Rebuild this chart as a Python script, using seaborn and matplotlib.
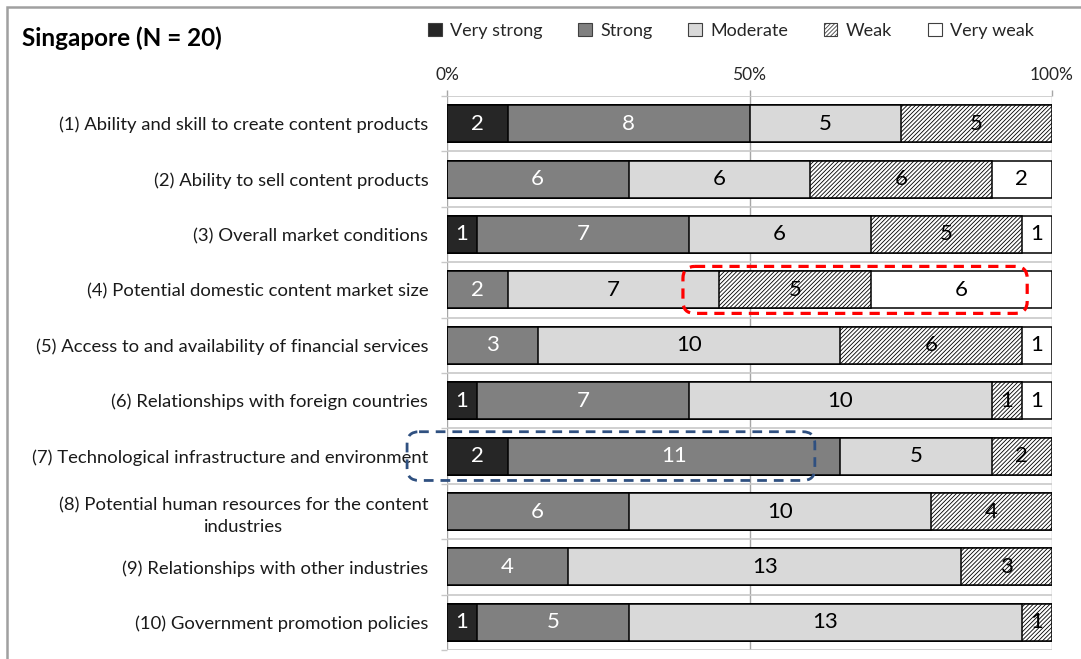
import numpy as np
import pandas as pd
import matplotlib
matplotlib.use("Agg")
import matplotlib.pyplot as plt
from matplotlib.patches import Patch, Rectangle, FancyBboxPatch
import seaborn as sns

# Survey responses (counts out of N = 20) for each factor
factors = [
    "(1) Ability and skill to create content products",
    "(2) Ability to sell content products",
    "(3) Overall market conditions",
    "(4) Potential domestic content market size",
    "(5) Access to and availability of financial services",
    "(6) Relationships with foreign countries",
    "(7) Technological infrastructure and environment",
    "(8) Potential human resources for the content\nindustries",
    "(9) Relationships with other industries",
    "(10) Government promotion policies",
]
levels = ["Very strong", "Strong", "Moderate", "Weak", "Very weak"]
very_strong = [2, 0, 1, 0, 0, 1, 2, 0, 0, 1]
strong = [8, 6, 7, 2, 3, 7, 11, 6, 4, 5]
moderate = [5, 6, 6, 7, 10, 10, 5, 10, 13, 13]
weak = [5, 6, 5, 5, 6, 1, 2, 4, 3, 1]
very_weak = [0, 2, 1, 6, 1, 1, 0, 0, 0, 0]
n_total = 20
xtick_vals = [0, 0.5, 1.0]
xtick_labels = ["0%", "50%", "100%"]

fills = ["#262626", "#808080", "#d9d9d9", "white", "white"]
hatches = [None, None, None, "////////", None]
text_colors = ["white", "white", "black", "black", "black"]

sns.set_theme(style="white")
plt.rcParams["font.family"] = ["Lato", "DejaVu Sans"]
plt.rcParams["hatch.linewidth"] = 0.6
plt.rcParams["hatch.color"] = "black"

counts = np.array([very_strong, strong, moderate, weak, very_weak], dtype=float)
shares = counts / n_total
cum = np.cumsum(shares, axis=0)

df = pd.DataFrame({"factor": factors})
for k, lvl in enumerate(levels):
    df[lvl] = cum[k]

fig = plt.figure(figsize=(10.81, 6.59), dpi=100)
ax = fig.add_axes([447 / 1081, 1 - 650 / 659, 605 / 1081, 554 / 659])

# Stacked bars: draw cumulative totals from the longest layer down
for k in range(len(levels) - 1, -1, -1):
    kw = {}
    if hatches[k]:
        kw["hatch"] = hatches[k]
    sns.barplot(data=df, x=levels[k], y="factor", orient="h", color=fills[k],
                saturation=1, edgecolor="black", linewidth=1.1, width=0.67,
                ax=ax, zorder=2, **kw)

# Segment value labels
for i in range(len(factors)):
    left = 0.0
    for k in range(len(levels)):
        v = counts[k, i]
        if v > 0:
            ax.text(left + shares[k, i] / 2, i, f"{int(v)}", ha="center",
                    va="center", fontsize=16, color=text_colors[k], zorder=5)
        left += shares[k, i]

ax.set_xlim(0, 1)
ax.set_ylim(9.5, -0.5)
ax.set_xlabel("")
ax.set_ylabel("")
for s in ax.spines.values():
    s.set_visible(False)

ax.xaxis.tick_top()
ax.set_xticks(xtick_vals)
ax.set_xticklabels(xtick_labels, fontsize=12.5)
ax.tick_params(axis="x", which="major", length=4.3, width=1, color="#a6a6a6",
               direction="out", pad=5, labelcolor="#262626")
ax.set_yticks(np.arange(len(factors)))
ax.set_yticklabels(factors, fontsize=13.3, multialignment="center", linespacing=1.45)
ax.tick_params(axis="y", which="major", length=0, pad=13.5, labelcolor="#1a1a1a")
ax.set_yticks(np.arange(-0.5, len(factors), 1), minor=True)
ax.tick_params(axis="y", which="minor", length=4.3, width=1, color="#c8c8c8",
               direction="out", left=True)
ax.grid(axis="x", which="major", color="#a6a6a6", linewidth=1, zorder=0)
ax.grid(axis="y", which="minor", color="#c8c8c8", linewidth=1.2, zorder=0)
ax.set_axisbelow(True)

# Highlight boxes
px_x = 1 / 605
aspect = (1 / 55.4) / px_x
red_box = FancyBboxPatch((0.390, 3 - 0.424), 0.569, 0.848,
                         boxstyle=f"round,pad=0,rounding_size={12 * px_x}",
                         mutation_aspect=aspect, fill=False, edgecolor="#ff0000",
                         linewidth=2.3, linestyle=(0, (3.2, 2.2)), zorder=6,
                         clip_on=False)
blue_box = FancyBboxPatch((-0.066, 6 - 0.44), 0.674, 0.88,
                          boxstyle=f"round,pad=0,rounding_size={12 * px_x}",
                          mutation_aspect=aspect, fill=False, edgecolor="#2f5080",
                          linewidth=2.0, linestyle=(0, (3.5, 2.5)), zorder=6,
                          clip_on=False)
ax.add_patch(red_box)
ax.add_patch(blue_box)

# Title and legend
fig.text(22 / 1081, 1 - 38 / 659, "Singapore (N = 20)", fontsize=17.5,
         fontweight="bold", va="center", ha="left", color="black")
handles = [Patch(facecolor=fills[k], edgecolor="#404040", linewidth=0.8,
                 hatch=hatches[k]) for k in range(len(levels))]
fig.legend(handles, levels, loc="center left", bbox_to_anchor=(428 / 1081, 1 - 31 / 659),
           ncol=5, frameon=False, fontsize=13, handlelength=0.75, handleheight=0.75,
           handletextpad=0.45, columnspacing=2.0, borderpad=0, borderaxespad=0)

# Chart-area frame
fig.add_artist(Rectangle((7 / 1081, -0.1), 1.2, 1.1 - 7 / 659, transform=fig.transFigure,
                         fill=False, edgecolor="#a0a0a0", linewidth=1.8))

fig.savefig("out.png", dpi=100)
